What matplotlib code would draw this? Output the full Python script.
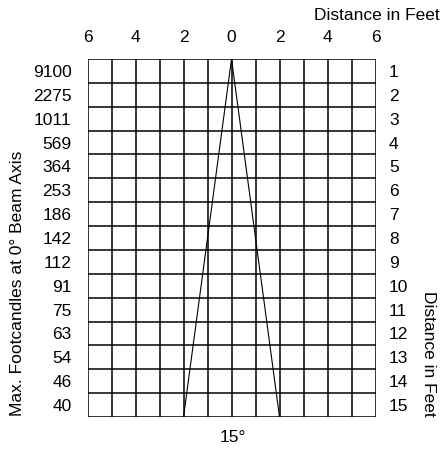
import matplotlib
matplotlib.use("Agg")
import matplotlib.pyplot as plt

plt.rcParams['font.family'] = ['Liberation Sans', 'DejaVu Sans']
plt.rcParams['font.size'] = 12.5

footcandles = ["9100", "2275", "1011", "569", "364", "253", "186", "142",
               "112", "91", "75", "63", "54", "46", "40"]
distances = [1, 2, 3, 4, 5, 6, 7, 8, 9, 10, 11, 12, 13, 14, 15]
width_ticks = [-6, -4, -2, 0, 2, 4, 6]
beam_x = [-2, 0, 2]
beam_y = [15, 0, 15]
beam_label = "15°"

fig = plt.figure(figsize=(4.42, 4.49), dpi=100)
ax = fig.add_axes([0.198, 0.0713, 0.6516, 0.7973])

ax.set_xlim(-6, 6)
ax.set_ylim(15, 0)

for x in range(-6, 7):
    ax.axvline(x, color='black', lw=1.1, zorder=1)
for y in range(0, 16):
    ax.axhline(y, color='black', lw=1.1, zorder=1)

ax.plot(beam_x, beam_y, color='black', lw=0.8, zorder=2)

centers = [d - 0.5 for d in distances]
ax.set_yticks(centers)
ax.set_yticklabels(footcandles)
ax.xaxis.tick_top()
ax.set_xticks(width_ticks)
ax.set_xticklabels([str(abs(v)) for v in width_ticks])
ax.tick_params(axis='y', length=0, pad=11.5)
ax.tick_params(axis='x', length=0, pad=10)
for s in ax.spines.values():
    s.set_visible(False)

ax2 = ax.twinx()
ax2.set_ylim(15, 0)
ax2.set_yticks(centers)
ax2.set_yticklabels([str(d) for d in distances])
ax2.tick_params(axis='y', length=0, pad=9.7)
for s in ax2.spines.values():
    s.set_visible(False)

fig.text(17.5 / 442, 1 - 416 / 449, "Max. Footcandles at 0° Beam Axis",
         rotation=90, ha='center', va='bottom')
fig.text(428 / 442, 1 - 417 / 449, "Distance in Feet", rotation=270,
         ha='center', va='bottom')
fig.text(440 / 442, 1 - 15 / 449, "Distance in Feet", ha='right', va='center')
fig.text(233 / 442, 1 - 437 / 449, beam_label, ha='center', va='center')

fig.savefig("out.png", dpi=100)
